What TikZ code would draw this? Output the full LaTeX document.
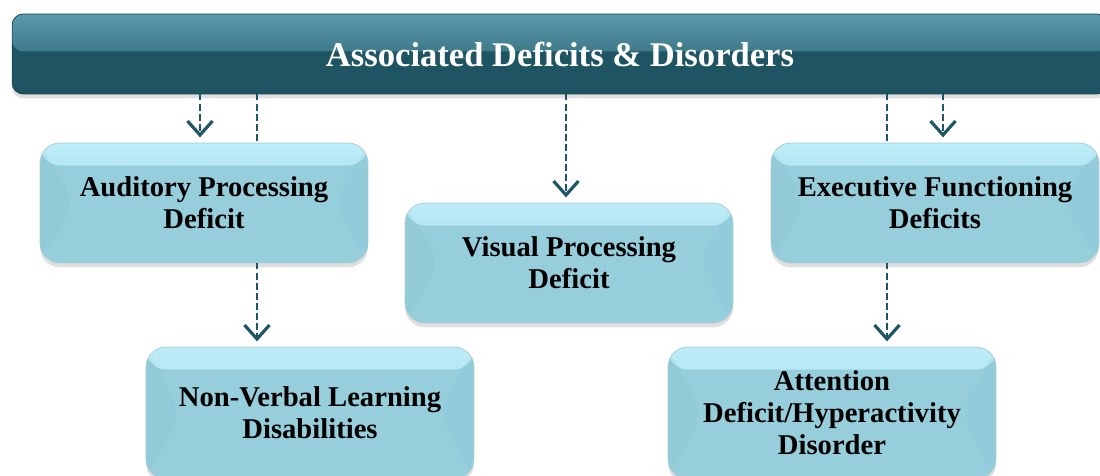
\documentclass[tikz,border=0pt]{standalone}
\usepackage{fontspec}
\setmainfont{Liberation Serif}
\usetikzlibrary{arrows.meta,shadows}

\definecolor{bannerdark}{HTML}{1F5462}
\definecolor{bannerlight}{HTML}{5E9FB2}
\definecolor{boxfill}{HTML}{96CEDC}
\definecolor{boxlight}{HTML}{BDEDF8}
\definecolor{boxdark}{HTML}{6FAABB}
\definecolor{linkcol}{HTML}{1F5666}

\tikzset{
  banner/.style={rounded corners=0.22cm, fill=bannerdark, draw=bannerdark!80!black,
    minimum width=21.92cm, minimum height=1.6cm, text=white,
    font=\fontsize{19.7}{22}\selectfont\bfseries,
    drop shadow={shadow xshift=0pt, shadow yshift=-2.5pt, opacity=0.25},
    path picture={
      \shade[top color=bannerlight, bottom color=bannerdark]
        ([yshift=0.1cm]path picture bounding box.north west) rectangle ([yshift=-0.75cm]path picture bounding box.north east);
      \fill[black, opacity=0.12] (path picture bounding box.north west) -- ++(0.6,-0.8)
        -- (path picture bounding box.south west) -- cycle;
    }},
  deficit/.style={rounded corners=0.4cm, fill=boxfill, draw=boxdark!60,
    minimum width=6.56cm, minimum height=2.4cm, align=center,
    font=\fontsize{16.3}{18.2}\selectfont\bfseries,
    drop shadow={shadow xshift=0pt, shadow yshift=-2.5pt, opacity=0.25},
    path picture={
      \shade[top color=boxlight, bottom color=boxfill]
        ([yshift=0.05cm]path picture bounding box.north west) rectangle ([yshift=-0.45cm]path picture bounding box.north east);
      \fill[boxdark, opacity=0.10] (path picture bounding box.north west)
        -- ([xshift=0.7cm]path picture bounding box.west)
        -- (path picture bounding box.south west) -- cycle;
      \fill[boxdark, opacity=0.08] (path picture bounding box.north east)
        -- ([xshift=-0.7cm]path picture bounding box.east)
        -- (path picture bounding box.south east) -- cycle;
    }},
  link/.style={draw=linkcol, line width=1.2pt, dash pattern=on 3.5pt off 2.2pt},
  linkarrow/.style={link, shorten >=3pt,
    -{Straight Barb[length=2.8mm, width=5mm, line width=1.8pt]}},
}

\begin{document}
\begin{tikzpicture}[x=0.02cm, y=-0.02cm]
\useasboundingbox (0,0) rectangle (1100,476);
\clip (0,0) rectangle (1100,476);

% title bar and the five boxes
\node[banner] (top) at (560,54) {Associated Deficits \& Disorders};
\node[deficit] (aud) at (204,203) {Auditory Processing\\ Deficit};
\node[deficit] (vis) at (569,263) {Visual Processing\\ Deficit};
\node[deficit] (exe) at (935,203) {Executive Functioning\\ Deficits};
\node[deficit, minimum height=2.64cm] (nvld) at (310,413) {Non-Verbal Learning\\ Disabilities};
\node[deficit, minimum height=2.64cm] (adhd) at (832,413) {Attention\\ Deficit/Hyperactivity\\ Disorder};

% points where the lines run past a box
\coordinate (audA) at ([xshift=-0.08cm]aud.north);
\coordinate (audB) at ([xshift=1.06cm]aud.south);
\coordinate (visA) at ([xshift=-0.06cm]vis.north);
\coordinate (exeA) at ([xshift=0.16cm]exe.north);
\coordinate (exeB) at ([xshift=-0.96cm]exe.south);

\draw[linkarrow] (audA |- top.south) -- (audA);
\draw[link] (audB |- top.south) -- (audB |- aud.north);
\draw[linkarrow] (audB) -- (audB |- nvld.north);
\draw[linkarrow] (visA |- top.south) -- (visA);
\draw[linkarrow] (exeA |- top.south) -- (exeA);
\draw[link] (exeB |- top.south) -- (exeB |- exe.north);
\draw[linkarrow] (exeB) -- (exeB |- adhd.north);
\end{tikzpicture}
\end{document}
